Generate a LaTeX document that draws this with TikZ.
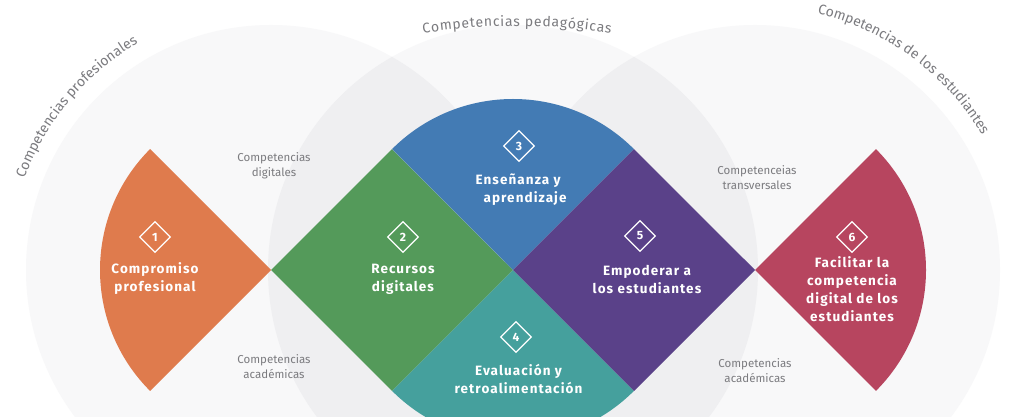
\documentclass[tikz,border=0pt]{standalone}
\usepackage{fontspec}
\setmainfont{Fira Sans}
\newfontfamily\labfont[LetterSpace=8]{Fira Sans}
\newfontfamily\curvefont{Fira Sans}
\usetikzlibrary{decorations.text,shapes.geometric}
\definecolor{cOrange}{HTML}{DF7B4D}
\definecolor{cGreen}{HTML}{549A5A}
\definecolor{cBlue}{HTML}{437BB4}
\definecolor{cTeal}{HTML}{45A09D}
\definecolor{cPurple}{HTML}{5A4189}
\definecolor{cRed}{HTML}{B7455F}
\definecolor{cBg}{HTML}{F8F8F9}
\definecolor{cOv}{HTML}{EFEFF1}
\definecolor{cTxt}{HTML}{7B7B7F}
\tikzset{
  lab/.style={text=white, font=\labfont\bfseries\fontsize{13.5}{18}\selectfont, align=center, inner sep=0},
  glab/.style={text=cTxt, font=\fontsize{11.5}{15}\selectfont, align=center, inner sep=0},
  numbox/.style={diamond, aspect=1, draw=white, line width=1.2pt, minimum size=31pt, inner sep=0,
    text=white, font=\bfseries\fontsize{12}{12}\selectfont},
  curvetext/.style={decorate, decoration={text along path, text align=center,
    text={|\curvefont\fontsize{14}{14}\selectfont\color{cTxt}|#1}}},
  curvefit/.style={decorate, decoration={text along path, text align=fit to path,
    text={|\curvefont\fontsize{14}{14}\selectfont\color{cTxt}|#1}}}
}
\begin{document}
\begin{tikzpicture}[x=1pt,y=1pt]
\useasboundingbox (0,0) rectangle (1024,417);
\fill[white] (0,0) rectangle (1024,417);
\coordinate (A) at (271,147);
\coordinate (B) at (513,147);
\coordinate (C) at (755,147);
\begin{scope}
  \clip (0,0) rectangle (1024,417);
  \fill[cBg] (A) circle[radius=245];
  \fill[cBg] (B) circle[radius=245];
  \fill[cBg] (C) circle[radius=245];
  \begin{scope}
    \clip (A) circle[radius=245];
    \fill[cOv] (B) circle[radius=245];
  \end{scope}
  \begin{scope}
    \clip (B) circle[radius=245];
    \fill[cOv] (C) circle[radius=245];
  \end{scope}
  % segments
  \fill[cOrange] (A) -- ++(135:171) arc[start angle=135,end angle=225,radius=171] -- cycle;
  \fill[cGreen] (A) -- ++(45:171) -- (B) -- ++(-135:171) -- cycle;
  \fill[cBlue] (B) -- ++(45:171) arc[start angle=45,end angle=135,radius=171] -- cycle;
  \fill[cTeal] (B) -- ++(-45:171) arc[start angle=-45,end angle=-135,radius=171] -- cycle;
  \fill[cPurple] (B) -- ++(45:171) -- (C) -- ++(-135:171) -- cycle;
  \fill[cRed] (C) -- ++(-45:171) arc[start angle=-45,end angle=45,radius=171] -- cycle;
\end{scope}
% curved titles
\path[curvetext={Competencias profesionales}] (20.9,228.3) arc[start angle=162,end angle=118,radius=263];
\path[curvefit={Competencias pedagógicas}] (423.1,383.6) arc[start angle=99,end angle=81,radius=600];
\path[curvetext={Competencias de los estudiantes}] (800.8,407.0) arc[start angle=80,end angle=27,radius=264];
% number diamonds
\node[numbox] (n1) at (155,180) {1};
\node[numbox] (n2) at (403,180) {2};
\node[numbox] (n3) at (519,271) {3};
\node[numbox] (n4) at (516,80) {4};
\node[numbox] (n5) at (640,181) {5};
\node[numbox] (n6) at (852,180) {6};
% labels
\node[lab] (l1) at (155,138.5) {Compromiso\\profesional};
\node[lab] (l2) at (403,137.5) {Recursos\\digitales};
\node[lab] (l3) at (518,227) {Enseñanza y\\\hspace*{14pt}aprendizaje};
\node[lab] (l4) at (518.5,38) {Evaluación y\\retroalimentación};
\node[lab] (l5) at (647,137.5) {Empoderar a\\los estudiantes};
\node[lab] (l6) at (852,128) {Facilitar la\\competencia\\digital de los\\estudiantes};
% gray labels
\node[glab] (g1) at (274,251.5) {Competencias\\digitales};
\node[glab] (g2) at (274,50.5) {Competencias\\académicas};
\node[glab] (g3) at (757,239.5) {Competenceias\\transversales};
\node[glab] (g4) at (755,46.5) {Competencias\\académicas};
\end{tikzpicture}
\end{document}
